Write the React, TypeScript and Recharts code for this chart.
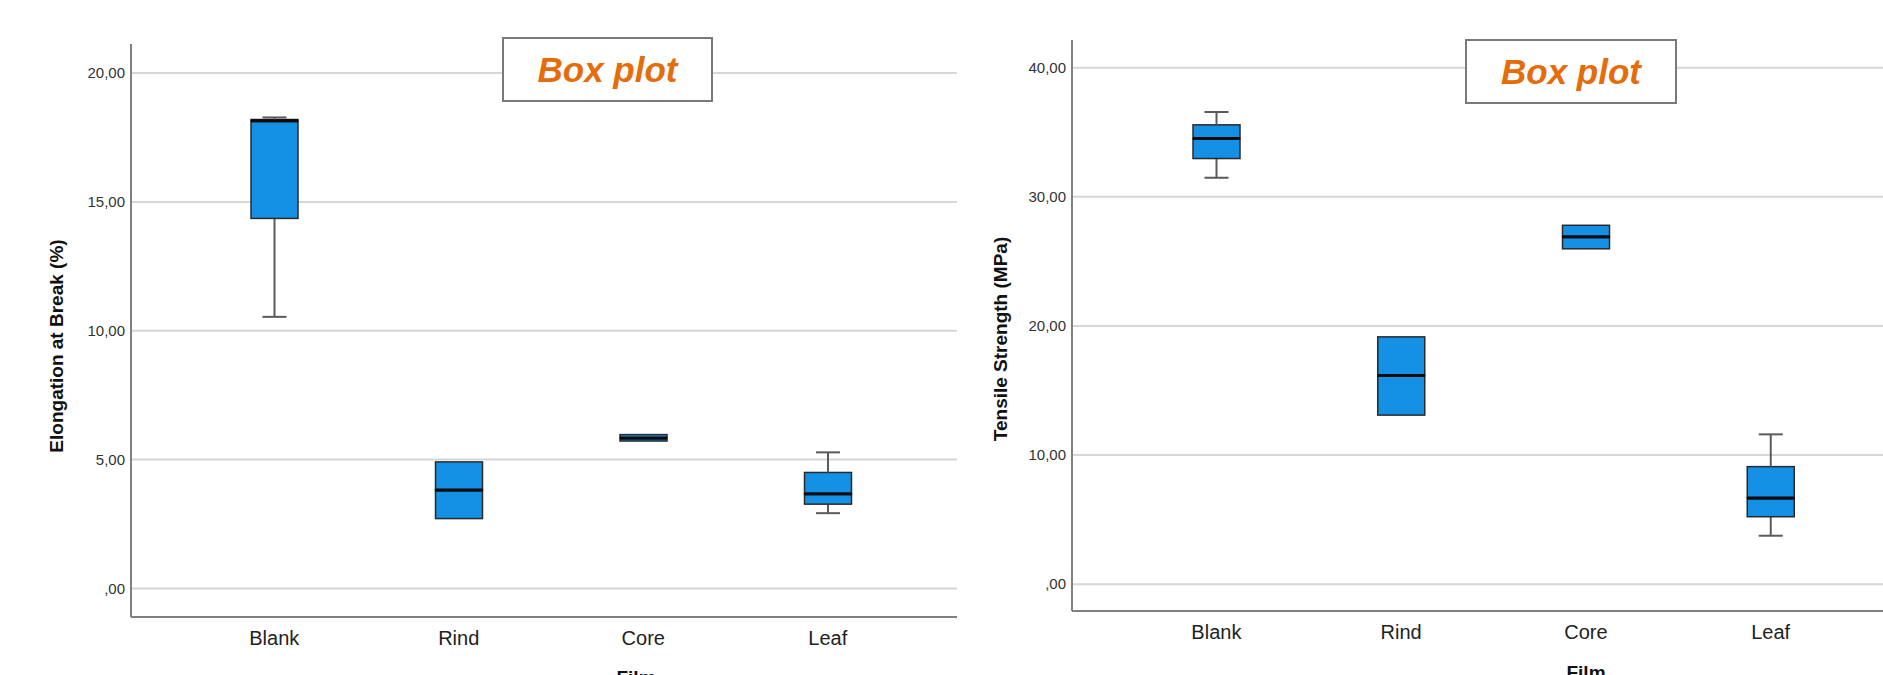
import React from 'react';
import { ComposedChart, Bar, XAxis, YAxis, CartesianGrid } from 'recharts';

const films = ['Blank', 'Rind', 'Core', 'Leaf'];

// Elongation at Break (%) - five number summary per film
const elongMin = [10.54, 2.71, 5.72, 2.92];
const elongQ1 = [14.36, 2.71, 5.72, 3.27];
const elongMedian = [18.15, 3.82, 5.84, 3.67];
const elongQ3 = [18.2, 4.91, 5.97, 4.5];
const elongMax = [18.28, 4.91, 5.97, 5.28];
const elongTicks = [0, 5, 10, 15, 20];

// Tensile Strength (MPa)
const tensMin = [31.47, 13.09, 25.97, 3.75];
const tensQ1 = [32.96, 13.09, 25.97, 5.22];
const tensMedian = [34.51, 16.16, 26.91, 6.67];
const tensQ3 = [35.57, 19.15, 27.79, 9.1];
const tensMax = [36.57, 19.15, 27.79, 11.6];
const tensTicks = [0, 10, 20, 30, 40];

const FONT = '"Liberation Sans", Arial, sans-serif';
const BOX_FILL = '#1490E4';
const BOX_STROKE = '#2a2a2a';
const WHISKER = '#5a5a5a';

// stacked segments: invisible base, then whisker / box pieces
const buildRows = (mn: number[], q1: number[], md: number[], q3: number[], mx: number[]) =>
  films.map((f, i) => ({
    film: f,
    base: mn[i],
    lowWhisker: q1[i] - mn[i],
    lowBox: md[i] - q1[i],
    highBox: q3[i] - md[i],
    highWhisker: mx[i] - q3[i],
  }));

const elongRows = buildRows(elongMin, elongQ1, elongMedian, elongQ3, elongMax);
const tensRows = buildRows(tensMin, tensQ1, tensMedian, tensQ3, tensMax);

const fmt = (v: number) => (v === 0 ? ',00' : v.toFixed(2).replace('.', ','));

const WhiskerLow = (p: any) => {
  const { x, y, width, height } = p;
  if (!height || height < 0.5) return <g />;
  const cx = x + width / 2;
  return (
    <g>
      <line x1={cx} x2={cx} y1={y} y2={y + height} stroke={WHISKER} strokeWidth={2} />
      <line x1={cx - 12} x2={cx + 12} y1={y + height} y2={y + height} stroke={WHISKER} strokeWidth={2} />
    </g>
  );
};

const WhiskerHigh = (p: any) => {
  const { x, y, width, height } = p;
  if (!height || height < 0.5) return <g />;
  const cx = x + width / 2;
  return (
    <g>
      <line x1={cx} x2={cx} y1={y} y2={y + height} stroke={WHISKER} strokeWidth={2} />
      <line x1={cx - 12} x2={cx + 12} y1={y} y2={y} stroke={WHISKER} strokeWidth={2} />
    </g>
  );
};

const BoxLow = (p: any) => {
  const { x, y, width, height } = p;
  const h = Math.max(height || 0, 0);
  return (
    <g>
      <rect x={x} y={y} width={width} height={h} fill={BOX_FILL} stroke={BOX_STROKE} strokeWidth={1.5} />
      <line x1={x} x2={x + width} y1={y} y2={y} stroke="#0a0a0a" strokeWidth={3} />
    </g>
  );
};

const BoxHigh = (p: any) => {
  const { x, y, width, height } = p;
  const h = Math.max(height || 0, 0);
  return (
    <g>
      <rect x={x} y={y} width={width} height={h} fill={BOX_FILL} stroke={BOX_STROKE} strokeWidth={1.5} />
      <line x1={x} x2={x + width} y1={y + h} y2={y + h} stroke="#0a0a0a" strokeWidth={3} />
    </g>
  );
};

const BoxPlot = ({ rows, domain, ticks, width, height, margin, padding }: any) => (
  <ComposedChart width={width} height={height} data={rows} margin={margin}>
    <CartesianGrid horizontal vertical={false} horizontalValues={ticks} stroke="#d6d6d6" strokeWidth={2} />
    <XAxis
      dataKey="film"
      height={40}
      padding={padding}
      axisLine={{ stroke: '#808080', strokeWidth: 2 }}
      tickLine={false}
      tickSize={6}
      tickMargin={8}
      tick={{ fontSize: 20, fill: '#222', fontFamily: FONT }}
    />
    <YAxis
      type="number"
      width={70}
      domain={domain}
      ticks={ticks}
      allowDataOverflow
      tickFormatter={fmt}
      axisLine={{ stroke: '#808080', strokeWidth: 2 }}
      tickLine={false}
      tickSize={4}
      tickMargin={2}
      tick={{ fontSize: 15, fill: '#333', fontFamily: FONT }}
    />
    <Bar dataKey="base" stackId="s" fill="none" barSize={47} isAnimationActive={false} />
    <Bar dataKey="lowWhisker" stackId="s" barSize={47} shape={WhiskerLow} isAnimationActive={false} />
    <Bar dataKey="lowBox" stackId="s" barSize={47} shape={BoxLow} isAnimationActive={false} />
    <Bar dataKey="highBox" stackId="s" barSize={47} shape={BoxHigh} isAnimationActive={false} />
    <Bar dataKey="highWhisker" stackId="s" barSize={47} shape={WhiskerHigh} isAnimationActive={false} />
  </ComposedChart>
);

const TitleBox = ({ left, top, w, h }: any) => (
  <div
    style={{
      position: 'absolute', left, top, width: w, height: h, boxSizing: 'border-box',
      border: '2px solid #7a7a7a', background: '#fff', display: 'flex',
      alignItems: 'center', justifyContent: 'center',
      fontFamily: FONT, fontWeight: 700, fontStyle: 'italic', fontSize: 35, color: '#E46C0A',
    }}
  >
    Box plot
  </div>
);

const AxisTitle = ({ cx, cy, text }: any) => (
  <div
    style={{
      position: 'absolute', left: cx - 150, top: cy - 12, width: 300, height: 24, lineHeight: '24px',
      textAlign: 'center', transform: 'rotate(-90deg)', fontFamily: FONT, fontWeight: 700,
      fontSize: 19, color: '#111', whiteSpace: 'nowrap',
    }}
  >
    {text}
  </div>
);

export default function App() {
  return (
    <div style={{ position: 'absolute', left: 0, top: 0, width: 1883, height: 675, overflow: 'hidden', background: '#fff' }}>
      <div style={{ position: 'absolute', left: 0, top: 0 }}>
        <BoxPlot
          rows={elongRows}
          domain={[-1.11, 21.13]}
          ticks={elongTicks}
          width={960}
          height={675}
          margin={{ top: 44, right: 3, left: 61, bottom: 18 }}
          padding={{ left: 51, right: 37 }}
        />
      </div>
      <div style={{ position: 'absolute', left: 940, top: 0 }}>
        <BoxPlot
          rows={tensRows}
          domain={[-2.08, 42.14]}
          ticks={tensTicks}
          width={943}
          height={675}
          margin={{ top: 40, right: 0, left: 62, bottom: 24 }}
          padding={{ left: 52, right: 20 }}
        />
      </div>
      <AxisTitle cx={57} cy={346} text="Elongation at Break (%)" />
      <AxisTitle cx={1001} cy={339} text="Tensile Strength (MPa)" />
      <TitleBox left={502} top={37} w={211} h={65} />
      <TitleBox left={1465} top={39} w={212} h={65} />
      <div style={{ position: 'absolute', left: 586, top: 667, width: 100, textAlign: 'center', fontFamily: FONT, fontWeight: 700, fontSize: 19, color: '#111' }}>Film</div>
      <div style={{ position: 'absolute', left: 1536, top: 662, width: 100, textAlign: 'center', fontFamily: FONT, fontWeight: 700, fontSize: 19, color: '#111' }}>Film</div>
    </div>
  );
}
